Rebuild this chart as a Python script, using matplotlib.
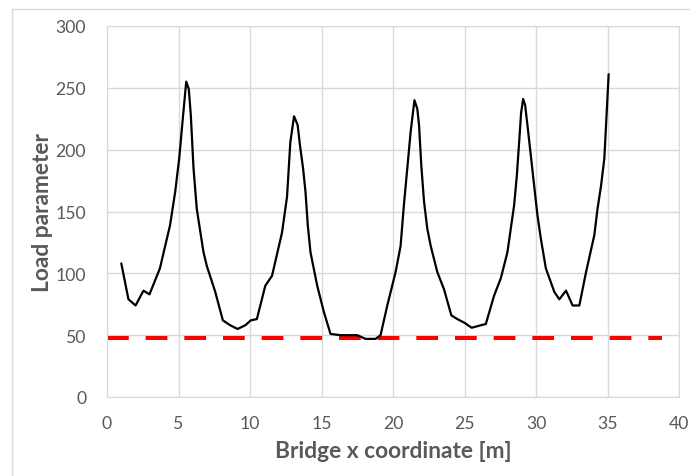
import numpy as np
import matplotlib
matplotlib.use('Agg')
from matplotlib import pyplot as plt
from matplotlib.lines import Line2D

## Data
bridge_x = [1.0, 1.5, 2.0, 2.55, 2.97, 3.7, 4.41, 4.77, 5.05, 5.3, 5.54, 5.72,
            5.86, 6.05, 6.28, 6.52, 6.75, 6.98, 7.57, 8.1, 8.62, 9.13, 9.67,
            10.06, 10.48, 11.07, 11.54, 12.24, 12.59, 12.82, 13.08, 13.33, 13.5,
            13.71, 13.88, 14.04, 14.23, 14.7, 15.16, 15.63, 16.33, 17.5, 18.08,
            18.78, 19.13, 19.6, 20.18, 20.53, 20.76, 21.0, 21.23, 21.5, 21.7,
            21.82, 21.98, 22.17, 22.4, 22.64, 23.1, 23.57, 24.08, 24.5, 25.0,
            25.5, 26.14, 26.49, 27.07, 27.54, 28.0, 28.47, 28.66, 28.82, 28.96,
            29.1, 29.24, 29.4, 29.64, 29.87, 30.1, 30.34, 30.69, 31.28, 31.63,
            32.1, 32.56, 33.03, 33.5, 34.08, 34.3, 34.55, 34.78, 35.08]
load_param = [108, 79, 74, 86, 83, 104, 139, 166, 193, 225, 255, 249,
              228, 185, 152, 134, 117, 106, 85, 62, 58, 55, 58,
              62, 63, 90, 98, 133, 162, 206, 227, 220, 203,
              185, 166, 139, 117, 90, 69, 51, 50, 50, 47,
              47, 50, 74, 101, 122, 155, 185, 214, 240, 233,
              220, 187, 158, 136, 122, 101, 87, 66, 63, 60,
              56, 58, 59, 82, 96, 117, 155, 179, 206, 230,
              241, 236, 220, 195, 171, 147, 128, 104, 85, 79,
              86, 74, 74, 101, 131, 152, 171, 193, 261]

limit_x = [0, 38.8]
limit_y = [48, 48]

xticks = [0, 5, 10, 15, 20, 25, 30, 35, 40]
yticks = [0, 50, 100, 150, 200, 250, 300]

grid_col = '#d9d9d9'
text_col = '#595959'
plt.rcParams['font.family'] = ['Lato', 'DejaVu Sans']

fig = plt.figure(figsize=(6.9, 4.77), dpi=100)
## chart area border (left and top edges visible)
fig.add_artist(Line2D([12/690, 12/690], [0, 1 - 10/477], color=grid_col, lw=1,
                      transform=fig.transFigure))
fig.add_artist(Line2D([12/690, 1], [1 - 10/477, 1 - 10/477], color=grid_col, lw=1,
                      transform=fig.transFigure))

ax = fig.add_axes([107/690, 79/477, 572/690, 371/477])
ax.plot(bridge_x, load_param, color='black', lw=1.6, zorder=3,
        solid_joinstyle='round', solid_capstyle='round')
ax.plot(limit_x, limit_y, color='#ff0000', lw=2.9,
        linestyle=(0, (5.4, 4.2)), zorder=2)

ax.set_xlim(0, 40)
ax.set_ylim(0, 300)
ax.set_xticks(xticks)
ax.set_yticks(yticks)
ax.grid(True, color=grid_col, lw=1)
ax.set_axisbelow(True)
for s in ax.spines.values():
    s.set_color(grid_col)
ax.tick_params(length=0, labelsize=12.7, labelcolor=text_col)
ax.tick_params(axis='x', pad=13)
ax.tick_params(axis='y', pad=15)

ax.set_xlabel('Bridge x coordinate [m]', fontsize=16.4, fontweight='bold',
              color=text_col)
ax.set_ylabel('Load parameter', fontsize=16.4, fontweight='bold',
              color=text_col, va='center')
ax.xaxis.set_label_coords(0.5, -0.115)
ax.yaxis.set_label_coords(-0.112, 0.5)

plt.savefig('out.png', dpi=100)
